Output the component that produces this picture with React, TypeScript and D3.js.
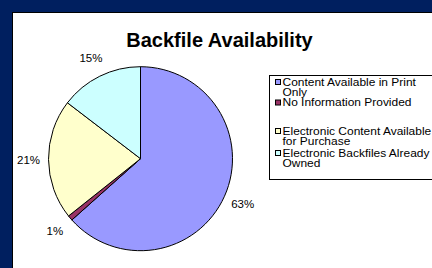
import React from 'react';
import * as d3 from 'd3';

const WIDTH = 432;
const HEIGHT = 268;

const categories = [
  'Content Available in Print Only',
  'No Information Provided',
  'Electronic Content Available for Purchase',
  'Electronic Backfiles Already Owned'
];
const shares = [63.4, 0.9, 21.1, 14.6];
const colors = ['#9999FF', '#993366', '#FFFFCC', '#CCFFFF'];
// legend text broken the way the original wraps it
const legendLines = [
  ['Content Available in Print', 'Only'],
  ['No Information Provided'],
  ['Electronic Content Available', 'for Purchase'],
  ['Electronic Backfiles Already', 'Owned']
];
const legendBaselines = [86, 106.5, 135, 157];

const CX = 140.5;
const CY = 158.7;
const R = 92;
const LABEL_R = 112;
const FONT = 'Arial, "Liberation Sans", sans-serif';

export default function App() {
  const pie = d3.pie<number>().sort(null).value((d) => d)(shares);
  const arc = d3.arc<d3.PieArcDatum<number>>().innerRadius(0).outerRadius(R);
  const labelArc = d3.arc<d3.PieArcDatum<number>>().innerRadius(LABEL_R).outerRadius(LABEL_R);

  return (
    <svg width={WIDTH} height={HEIGHT} style={{ position: 'absolute', left: 0, top: 0 }}>
      <rect x={0} y={0} width={WIDTH} height={HEIGHT} fill='#001F5F' />
      <rect x={12.5} y={12.5} width={WIDTH} height={HEIGHT} fill='#FFFFFF' stroke='#000' strokeWidth={1} />

      <text x={219.5} y={46.5} textAnchor='middle' fontFamily={FONT} fontWeight='bold' fontSize={20} fill='#000'>
        Backfile Availability
      </text>

      <g transform={`translate(${CX},${CY})`}>
        {pie.map((p, i) => (
          <path key={categories[i]} d={arc(p) || ''} fill={colors[i]} stroke='#000' strokeWidth={1} strokeLinejoin='round' />
        ))}
        {pie.map((p, i) => {
          const [x, y] = labelArc.centroid(p);
          return (
            <text key={i} x={x} y={y} dy='0.35em' textAnchor='middle' fontFamily={FONT} fontSize={11.5} fill='#000'>
              {Math.round(p.data)}%
            </text>
          );
        })}
      </g>

      <rect x={269.5} y={75.5} width={200} height={104} fill='#FFFFFF' stroke='#000' strokeWidth={1} />
      {legendLines.map((lines, i) => (
        <g key={i}>
          <rect x={275.5} y={legendBaselines[i] - 6.5} width={5} height={5} fill={colors[i]} stroke='#000' strokeWidth={1} />
          <g transform='translate(282.5,0) scale(1.14,1)'>
            <text x={0} y={legendBaselines[i]} fontFamily={FONT} fontSize={10.5} fill='#000'>
              {lines.map((l, j) => (
                <tspan key={j} x={0} dy={j === 0 ? 0 : 10.5}>{l}</tspan>
              ))}
            </text>
          </g>
        </g>
      ))}
    </svg>
  );
}
